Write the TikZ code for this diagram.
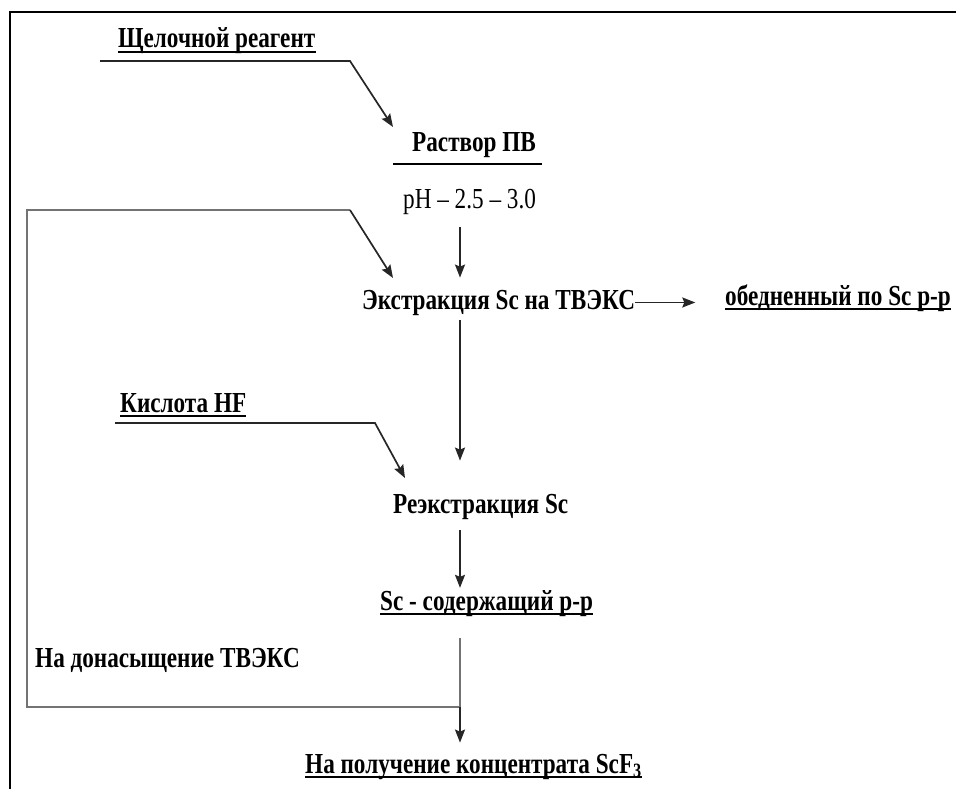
\documentclass[tikz,border=0pt]{standalone}
\usepackage{fontspec}
\setmainfont{Liberation Serif}[FakeStretch=0.8]
\usetikzlibrary{arrows.meta,calc,positioning}

\begin{document}
\begin{tikzpicture}
    [x=1pt, y=-1pt, >={Stealth[length=13pt,width=10pt,inset=2pt]},
    lbl/.style={inner sep=0pt, anchor=base west,
      font=\fontsize{29}{34}\selectfont\bfseries},
    plain/.style={lbl, font=\fontsize{29}{34}\selectfont},
    uline/.style={append after command={
      ([yshift=-4pt]\tikzlastnode.base west)
      edge[line width=2.6pt] ([yshift=-4pt]\tikzlastnode.base east)}},
    flow/.style={line width=1.7pt, black!85, ->},
    recycle/.style={line width=1.6pt, black!55}]

  \useasboundingbox (0,0) rectangle (956,789);
  \draw[line width=2pt] (10,789) -- (10,12) -- (956,12);

  % nodes
  \node[lbl,uline] (alkali) at (118,48) {Щелочной реагент};
  \node[lbl] (solution) at (412,152) {Раствор ПВ};
  \node[plain] (ph) at (403,208) {pH – 2.5 – 3.0};
  \node[lbl] (extract) at (362,309) {Экстракция Sc на ТВЭКС};
  \node[lbl,uline] (lean) at (725,305) {обедненный по Sc р-р};
  \node[lbl,uline] (acid) at (120,412) {Кислота HF};
  \node[lbl] (strip) at (393,513) {Реэкстракция Sc};
  \node[lbl,uline] (scsol) at (380,610) {Sc - содержащий р-р};
  \node[lbl] (resat) at (35,667) {На донасыщение ТВЭКС};
  \node[lbl,uline] (conc) at (305,773) {На получение концентрата ScF\textsubscript{3}};

  \coordinate (spine) at (460,0);
  \coordinate (alkin) at (100,61);
  \coordinate (alkbend) at (350,61);
  \coordinate (alkout) at (393,127);
  \coordinate (acidin) at (115,423);
  \coordinate (acidbend) at (375,423);
  \coordinate (acidout) at (405,478);
  \coordinate (join) at (460,707);
  \coordinate (loopcorner) at (27,210);
  \coordinate (loopbend) at (350,210);
  \coordinate (loopout) at (393,278);

  \draw[line width=1.5pt] (393,164) -- (542,164);

  % connectors
  \draw[flow] (alkin) -- (alkbend) -- (alkout);
  \draw[flow] ($(ph.south -| spine)+(0,13)$) -- ($(extract.north -| spine)+(0,-12)$);
  \draw[flow] (extract.east) -- ++(60,0);
  \draw[flow] ($(extract.south -| spine)+(0,5)$) -- ($(strip.north -| spine)+(0,-33)$);
  \draw[flow] (acidin) -- (acidbend) -- (acidout);
  \draw[flow] ($(strip.south -| spine)+(0,11)$) -- ($(scsol.north -| spine)+(0,-2)$);
  \draw[recycle] ($(scsol.south -| spine)+(0,22)$) -- (join);
  \draw[recycle] (join) -| (loopcorner) -- (loopbend);
  \draw[flow] (loopbend) -- (loopout);
  \draw[flow] (join) -- ($(conc.north -| spine)+(0,-11)$);

\end{tikzpicture}
\end{document}
